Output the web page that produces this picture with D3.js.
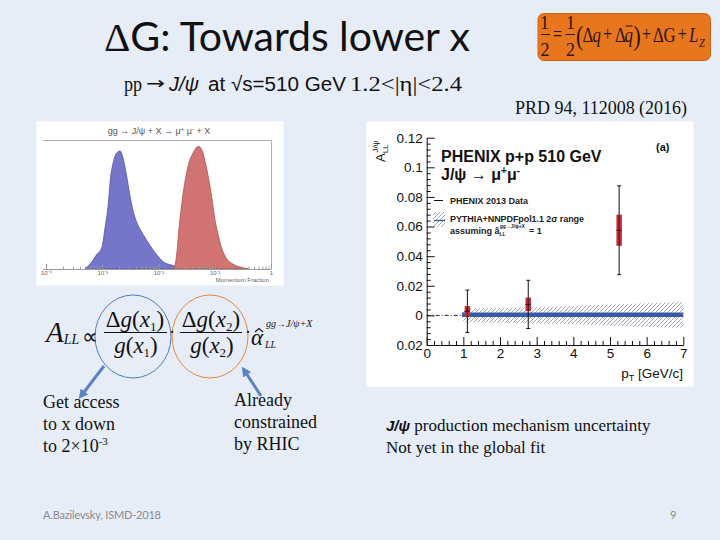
<!DOCTYPE html>
<html><head><meta charset="utf-8">
<script src="https://cdn.jsdelivr.net/npm/d3@7"></script>
<style>body{margin:0;background:#e7edf7}svg{display:block}</style>
</head><body>
<script>
// ---------- data: left histogram (momentum fraction) ----------
const histTicks = [1e-4, 1e-3, 1e-2, 1e-1, 1];
const histTickLabels = ["10⁻⁴", "10⁻³", "10⁻²", "10⁻¹", "1"];
const blueX = [4.9e-4, 6.5e-4, 7.9e-4, 9.8e-4, 1.12e-3, 1.29e-3, 1.38e-3, 1.58e-3, 1.86e-3, 2.09e-3, 2.34e-3, 2.69e-3, 3.09e-3, 3.55e-3, 4.07e-3, 5.37e-3, 7.08e-3, 9.33e-3, 1.23e-2, 1.82e-2, 2.75e-2, 3.55e-2];
const blueH = [0, 0.06, 0.12, 0.18, 0.35, 0.57, 0.74, 0.91, 0.99, 1.0, 0.94, 0.80, 0.63, 0.49, 0.40, 0.29, 0.20, 0.12, 0.06, 0.03, 0.005, 0];
const redX = [1.89e-2, 2.1e-2, 2.31e-2, 2.57e-2, 2.95e-2, 3.39e-2, 4.17e-2, 5.13e-2, 5.89e-2, 6.76e-2, 7.76e-2, 8.91e-2, 0.1, 0.115, 0.132, 0.162, 0.214, 0.324, 0.398];
const redH = [0, 0.12, 0.34, 0.54, 0.74, 0.88, 0.99, 1.04, 1.01, 0.91, 0.77, 0.60, 0.43, 0.29, 0.18, 0.09, 0.04, 0.01, 0];

// ---------- data: right plot A_LL vs pT ----------
const ptValues = [1.11, 2.77, 5.25];
const allValues = [0.0028, 0.0074, 0.0575];
const statErr = [0.0143, 0.0163, 0.0300];
const systErr = [0.0035, 0.0046, 0.0105];
const theoryPt = [1, 2, 3, 4, 5, 6, 7];
const theoryCentral = [0.0005, 0.0005, 0.0005, 0.0005, 0.0005, 0.0005, 0.0005];
const theoryLow = [-0.0045, -0.005, -0.0055, -0.006, -0.007, -0.0077, -0.0083];
const theoryHigh = [0.0045, 0.005, 0.0057, 0.0063, 0.0072, 0.0082, 0.009];
const yTicks = [-0.02, 0, 0.02, 0.04, 0.06, 0.08, 0.1, 0.12];
const yTickLabels = ["0.02", "0", "0.02", "0.04", "0.06", "0.08", "0.1", "0.12"];
const xTicks = [0, 1, 2, 3, 4, 5, 6, 7];
const xTickLabels = ["0", "1", "2", "3", "4", "5", "6", "7"];

const SERIF = "'Liberation Serif','Times New Roman',serif";
const SANS = "'Liberation Sans',Arial,sans-serif";
const TITLE = "Lato,'Open Sans',sans-serif";

const svg = d3.select("body").append("svg").attr("width", 720).attr("height", 540);
svg.append("rect").attr("width", 720).attr("height", 540).attr("fill", "#e7edf7");

const defs = svg.append("defs");
const pat = defs.append("pattern").attr("id", "hatch").attr("patternUnits", "userSpaceOnUse")
  .attr("width", 4).attr("height", 4);
pat.append("path").attr("d", "M-1,1 l2,-2 M0,4 l4,-4 M3,5 l2,-2")
  .attr("stroke", "#8c8fa0").attr("stroke-width", 0.8);
const mk = defs.append("marker").attr("id", "arr").attr("viewBox", "0 0 10 10")
  .attr("refX", 6).attr("refY", 5).attr("markerWidth", 3.2).attr("markerHeight", 3.2)
  .attr("orient", "auto");
mk.append("path").attr("d", "M0,0 L10,5 L0,10 z").attr("fill", "#5b83c2");

// text piece fitted between x0 and x1
function piece(parent, s, x0, x1, yb, size, opts = {}) {
  return parent.append("text").attr("x", x0).attr("y", yb).attr("font-size", size)
    .attr("font-family", opts.family || SERIF).attr("font-style", opts.italic ? "italic" : null)
    .attr("fill", opts.fill || "#111").attr("textLength", x1 - x0).attr("lengthAdjust", "spacingAndGlyphs").text(s);
}

// ---------- title ----------
const t = svg.append("text").attr("x", 104).attr("y", 51).attr("font-size", 41)
  .attr("font-family", TITLE).attr("fill", "#111").attr("textLength", 366);
t.append("tspan").attr("font-family", SERIF).text("Δ");
t.append("tspan").text("G: Towards lower x");

const st = svg.append("g");
piece(st, "pp", 124, 142, 90.5, 21);
piece(st, "→", 146, 165, 89, 17, { family: "'DejaVu Sans',sans-serif" });
piece(st, "J/ψ", 169, 199, 90.5, 20, { family: SANS, italic: true });
piece(st, "at √s=510 GeV", 208, 346, 90.5, 20, { family: SANS });
piece(st, "1.2<|η|<2.4", 350, 462, 90.5, 20);

// ---------- orange box ----------
svg.append("rect").attr("x", 538).attr("y", 13.5).attr("width", 172.5).attr("height", 47).attr("rx", 6)
  .attr("fill", "#e8761f").attr("stroke", "#c8641a").attr("stroke-width", 1);
const fg = svg.append("g");
const FCOL = "#2a1405";
fg.append("text").attr("x", 544.5).attr("y", 29).attr("text-anchor", "middle").attr("font-family", SERIF).attr("font-size", 18).attr("fill", FCOL).text("1");
fg.append("text").attr("x", 545).attr("y", 56).attr("text-anchor", "middle").attr("font-family", SERIF).attr("font-size", 18).attr("fill", FCOL).text("2");
fg.append("line").attr("x1", 541).attr("x2", 550).attr("y1", 34.5).attr("y2", 34.5).attr("stroke", FCOL).attr("stroke-width", 1);
fg.append("text").attr("x", 570.5).attr("y", 29).attr("text-anchor", "middle").attr("font-family", SERIF).attr("font-size", 18).attr("fill", FCOL).text("1");
fg.append("text").attr("x", 570.5).attr("y", 56).attr("text-anchor", "middle").attr("font-family", SERIF).attr("font-size", 18).attr("fill", FCOL).text("2");
fg.append("line").attr("x1", 565.7).attr("x2", 575).attr("y1", 34.5).attr("y2", 34.5).attr("stroke", FCOL).attr("stroke-width", 1);
fg.append("line").attr("x1", 625.5).attr("x2", 632.5).attr("y1", 26).attr("y2", 26).attr("stroke", FCOL).attr("stroke-width", 1);
// main line as one condensed text
const SX = 0.8, OX = 553;
const fmain = fg.append("g").attr("transform", `translate(${OX},0) scale(${SX},1)`)
  .append("text").attr("font-family", SERIF).attr("font-size", 21).attr("fill", FCOL);
const parts = [
  ["=", 553, 41, 20, false], ["(", 576, 45, 27, false], ["Δ", 582.5, 42, 21, false], ["q", 592.5, 42, 21, true],
  ["+", 603, 41, 20, false], ["Δ", 615, 42, 21, false], ["q", 624.5, 42, 21, true], [")", 633.5, 45, 27, false],
  ["+", 642, 41, 20, false], ["Δ", 653, 42, 21, false], ["G", 663.5, 42, 21, false], ["+", 677.7, 41, 20, false],
  ["L", 689, 42, 21, true], ["Z", 699, 47, 13, true]
];
parts.forEach(p => fmain.append("tspan").attr("x", (p[1] - OX) / SX).attr("y", p[2]).attr("font-size", p[3])
  .attr("font-style", p[4] ? "italic" : null).text(p[0]));

svg.append("text").attr("x", 515).attr("y", 114).attr("font-family", SERIF).attr("font-size", 18)
  .attr("fill", "#111").attr("textLength", 172).text("PRD 94, 112008 (2016)");

// ---------- left histogram ----------
const hg = svg.append("g");
hg.append("rect").attr("x", 36.5).attr("y", 121.5).attr("width", 247).attr("height", 164).attr("fill", "#fff");
const hx = d3.scaleLog().domain([1e-4, 1]).range([46, 271]);
const hy = d3.scaleLinear().domain([0, 1]).range([269, 151]);
const harea = d3.area().x(d => hx(d[0])).y0(hy(0)).y1(d => hy(d[1])).curve(d3.curveMonotoneX);
hg.append("path").datum(blueX.map((x, i) => [x, blueH[i]])).attr("d", harea)
  .attr("fill", "#7575ca").attr("stroke", "#4a4aa0").attr("stroke-width", 0.7);
hg.append("path").datum(redX.map((x, i) => [x, redH[i]])).attr("d", harea)
  .attr("fill", "#d17373").attr("stroke", "#a84848").attr("stroke-width", 0.7);
hg.append("path").attr("d", "M43,140.5 H271.5 V269").attr("fill", "none").attr("stroke", "#9a9a9a").attr("stroke-width", 0.8);
const hAxis = d3.axisBottom(hx).tickValues(histTicks).tickSize(-5).tickSizeOuter(0).tickPadding(2)
  .tickFormat((d, i) => histTickLabels[i]);
const hag = hg.append("g").attr("transform", "translate(0,269)").call(hAxis);
hag.select(".domain").attr("stroke", "#9a9a9a").attr("d", "M43,0.5H271.5");
hag.selectAll(".tick line").attr("stroke", "#9a9a9a");
hag.selectAll("text").attr("font-size", 6).attr("fill", "#666").attr("font-family", SANS);
const minorH = [];
[1e-4, 1e-3, 1e-2, 1e-1].forEach(b => [2, 3, 4, 5, 6, 7, 8, 9].forEach(k => minorH.push(b * k)));
hg.append("g").attr("transform", "translate(0,269)")
  .call(d3.axisBottom(hx).tickValues(minorH).tickSize(-2.5).tickSizeOuter(0).tickFormat(""))
  .call(g => g.select(".domain").remove())
  .selectAll("line").attr("stroke", "#9a9a9a");
hg.append("text").attr("x", 269).attr("y", 282).attr("text-anchor", "end").attr("font-size", 6)
  .attr("font-family", SANS).attr("fill", "#666").text("Momentum Fraction");
const ht = hg.append("text").attr("x", 159).attr("y", 134).attr("text-anchor", "middle")
  .attr("font-size", 9).attr("font-family", SANS).attr("fill", "#555");
ht.append("tspan").text("gg → J/ψ + X → μ");
ht.append("tspan").attr("font-size", 6).attr("dy", -3).text("+");
ht.append("tspan").attr("dy", 3).text(" μ");
ht.append("tspan").attr("font-size", 6).attr("dy", -3).text("-");
ht.append("tspan").attr("dy", 3).text(" + X");

// ---------- formula ----------
const eq = svg.append("g").attr("font-family", SERIF).attr("fill", "#111");
eq.append("ellipse").attr("cx", 133).attr("cy", 336.5).attr("rx", 38).attr("ry", 41.5)
  .attr("fill", "none").attr("stroke", "#4f7db8").attr("stroke-width", 1);
eq.append("ellipse").attr("cx", 210).attr("cy", 336.5).attr("rx", 38).attr("ry", 41.5)
  .attr("fill", "none").attr("stroke", "#e8883a").attr("stroke-width", 1);
const a = eq.append("text").attr("x", 46).attr("y", 342);
a.append("tspan").attr("font-style", "italic").attr("font-size", 29).text("A");
a.append("tspan").attr("font-style", "italic").attr("font-size", 14).attr("dy", 2).text("LL");
eq.append("text").attr("x", 82).attr("y", 344).attr("font-size", 22).text("∝");
function frac(cx, x1, x2, sub) {
  const n = eq.append("text").attr("x", cx).attr("y", 327).attr("text-anchor", "middle").attr("font-size", 23);
  n.append("tspan").text("Δ");
  n.append("tspan").attr("font-style", "italic").text("g");
  n.append("tspan").text("(");
  n.append("tspan").attr("font-style", "italic").text("x");
  n.append("tspan").attr("font-size", 13).attr("dy", 4).text(sub);
  n.append("tspan").attr("dy", -4).text(")");
  eq.append("line").attr("x1", x1).attr("x2", x2).attr("y1", 332.5).attr("y2", 332.5).attr("stroke", "#111").attr("stroke-width", 1.2);
  const d = eq.append("text").attr("x", cx + 1).attr("y", 353).attr("text-anchor", "middle").attr("font-size", 23);
  d.append("tspan").attr("font-style", "italic").text("g");
  d.append("tspan").text("(");
  d.append("tspan").attr("font-style", "italic").text("x");
  d.append("tspan").attr("font-size", 13).attr("dy", 4).text(sub);
  d.append("tspan").attr("dy", -4).text(")");
}
frac(135, 104, 167, "1");
frac(211, 180, 242, "2");
eq.append("text").attr("x", 169).attr("y", 338).attr("font-size", 18).text("·");
eq.append("text").attr("x", 245).attr("y", 338).attr("font-size", 18).text("·");
eq.append("text").attr("x", 251).attr("y", 345).attr("font-size", 23).attr("font-style", "italic").text("α");
eq.append("path").attr("d", "M255,332 L259,328.5 L263,332").attr("fill", "none").attr("stroke", "#111").attr("stroke-width", 1.1);
eq.append("text").attr("x", 265).attr("y", 348).attr("font-size", 10).attr("font-style", "italic").text("LL");
eq.append("text").attr("x", 266).attr("y", 327).attr("font-size", 10).attr("font-style", "italic").text("gg→J/ψ+X");

// arrows
svg.append("line").attr("x1", 104).attr("y1", 366).attr("x2", 81).attr("y2", 396)
  .attr("stroke", "#5b83c2").attr("stroke-width", 3).attr("marker-end", "url(#arr)");
svg.append("line").attr("x1", 261).attr("y1", 396).attr("x2", 244).attr("y2", 370)
  .attr("stroke", "#5b83c2").attr("stroke-width", 3).attr("marker-end", "url(#arr)");

// ---------- lower texts ----------
function lines(x, y0, dy, arr, size) {
  const g = svg.append("g").attr("font-family", SERIF).attr("font-size", size).attr("fill", "#111");
  arr.forEach((s, i) => g.append("text").attr("x", x).attr("y", y0 + i * dy).text(s));
  return g;
}
lines(43, 408, 22, ["Get access", "to x down"], 18);
const l3 = svg.append("text").attr("x", 43).attr("y", 452).attr("font-family", SERIF).attr("font-size", 18).attr("fill", "#111");
l3.append("tspan").text("to 2×10");
l3.append("tspan").attr("font-size", 11).attr("dy", -7).text("-3");
lines(234, 406, 22, ["Already", "constrained", "by RHIC"], 18);
const r1 = svg.append("text").attr("x", 386).attr("y", 431).attr("font-family", SERIF).attr("font-size", 17).attr("fill", "#111");
r1.append("tspan").attr("font-family", SANS).attr("font-style", "italic").attr("font-weight", "bold").attr("font-size", 15).text("J/ψ");
r1.append("tspan").text(" production mechanism uncertainty");
lines(386, 453, 22, ["Not yet in the global fit"], 17);

svg.append("text").attr("x", 43).attr("y", 519).attr("font-family", TITLE).attr("font-size", 11)
  .attr("fill", "#8a8a8a").attr("textLength", 118).text("A.Bazilevsky, ISMD-2018");
svg.append("text").attr("x", 670).attr("y", 519).attr("font-family", TITLE).attr("font-size", 11)
  .attr("fill", "#8a8a8a").text("9");

// ---------- right plot ----------
const rg = svg.append("g");
rg.append("rect").attr("x", 366.5).attr("y", 121.5).attr("width", 327).attr("height", 265).attr("fill", "#fff");
const x = d3.scaleLinear().domain([0, 7]).range([426.7, 683.3]);
const y = d3.scaleLinear().domain([-0.02, 0.12]).range([345, 137.7]);

// theory band
const band = d3.area().x((d, i) => x(theoryPt[i])).y0((d, i) => y(theoryLow[i])).y1((d, i) => y(theoryHigh[i]));
rg.append("path").datum(theoryPt).attr("d", band).attr("fill", "url(#hatch)");
rg.append("line").attr("x1", x(0)).attr("x2", x(1)).attr("y1", y(0)).attr("y2", y(0))
  .attr("stroke", "#111").attr("stroke-width", 0.9).attr("stroke-dasharray", "4,2,1,2");
const tl = d3.line().x((d, i) => x(theoryPt[i] === 1 ? 0.96 : theoryPt[i])).y((d, i) => y(theoryCentral[i]));
rg.append("path").datum(theoryPt).attr("d", tl).attr("fill", "none").attr("stroke", "#3a5ca8").attr("stroke-width", 4.5);

// data points
ptValues.forEach((p, i) => {
  const cx = x(p);
  rg.append("line").attr("x1", cx).attr("x2", cx).attr("y1", y(allValues[i] - statErr[i])).attr("y2", y(allValues[i] + statErr[i]))
    .attr("stroke", "#111").attr("stroke-width", 1);
  [allValues[i] - statErr[i], allValues[i] + statErr[i]].forEach(v =>
    rg.append("line").attr("x1", cx - 2).attr("x2", cx + 2).attr("y1", y(v)).attr("y2", y(v)).attr("stroke", "#111").attr("stroke-width", 1));
  rg.append("rect").attr("x", x(p - 0.075)).attr("width", x(p + 0.075) - x(p - 0.075))
    .attr("y", y(allValues[i] + systErr[i])).attr("height", y(allValues[i] - systErr[i]) - y(allValues[i] + systErr[i]))
    .attr("fill", "#c42f3d");
  rg.append("line").attr("x1", cx).attr("x2", cx).attr("y1", y(allValues[i] + systErr[i])).attr("y2", y(allValues[i] - systErr[i]))
    .attr("stroke", "#111").attr("stroke-width", 0.8);
  rg.append("line").attr("x1", x(p - 0.075)).attr("x2", x(p + 0.075)).attr("y1", y(allValues[i])).attr("y2", y(allValues[i]))
    .attr("stroke", "#111").attr("stroke-width", 0.8);
});

// axes
function styleAxis(g) {
  g.selectAll("line").attr("stroke", "#111");
  g.select(".domain").attr("stroke", "#111").attr("stroke-width", 1);
  g.selectAll("text").attr("font-family", SANS).attr("font-size", 13.5).attr("fill", "#111");
}
const yMinor = d3.range(-0.02, 0.1201, 0.004).filter(v => Math.abs(Math.round(v / 0.02) * 0.02 - v) > 1e-6);
rg.append("g").attr("transform", `translate(${x(0)},0)`)
  .call(d3.axisLeft(y).tickValues(yMinor).tickSize(-4).tickSizeOuter(0).tickFormat(""))
  .call(g => g.select(".domain").remove()).selectAll("line").attr("stroke", "#111");
rg.append("g").attr("transform", `translate(${x(0)},0)`)
  .call(d3.axisLeft(y).tickValues(yTicks).tickSize(-8).tickSizeOuter(0).tickPadding(4).tickFormat((d, i) => yTickLabels[i]))
  .call(styleAxis);
const xMinor = d3.range(0, 7.001, 0.2).filter(v => Math.abs(Math.round(v) - v) > 1e-6);
rg.append("g").attr("transform", `translate(0,${y(-0.02)})`)
  .call(d3.axisBottom(x).tickValues(xMinor).tickSize(-4).tickSizeOuter(0).tickFormat(""))
  .call(g => g.select(".domain").remove()).selectAll("line").attr("stroke", "#111");
rg.append("g").attr("transform", `translate(0,${y(-0.02)})`)
  .call(d3.axisBottom(x).tickValues(xTicks).tickSize(-8).tickSizeOuter(0).tickPadding(3).tickFormat((d, i) => xTickLabels[i]))
  .call(styleAxis);

// axis titles
const xt = rg.append("text").attr("x", 683).attr("y", 378).attr("text-anchor", "end")
  .attr("font-family", SANS).attr("font-size", 13.5).attr("fill", "#111");
xt.append("tspan").text("p");
xt.append("tspan").attr("font-size", 9).attr("dy", 3).text("T");
xt.append("tspan").attr("dy", -3).text(" [GeV/c]");
const yt = rg.append("text").attr("transform", "translate(385,162) rotate(-90)")
  .attr("font-family", SANS).attr("font-size", 13).attr("fill", "#111");
yt.append("tspan").text("A");
yt.append("tspan").attr("font-size", 8).attr("dy", 3).text("LL");
yt.append("tspan").attr("font-size", 8).attr("dx", -8).attr("dy", -10).text("J/ψ");

// labels and legend
rg.append("text").attr("x", 656).attr("y", 151).attr("font-family", SANS).attr("font-weight", "bold")
  .attr("font-size", 11).attr("fill", "#111").text("(a)");
rg.append("text").attr("x", 441).attr("y", 162).attr("font-family", SANS).attr("font-weight", "bold")
  .attr("font-size", 16).attr("fill", "#111").text("PHENIX p+p 510 GeV");
const jp = rg.append("text").attr("x", 441).attr("y", 180).attr("font-family", SANS).attr("font-weight", "bold")
  .attr("font-size", 16).attr("fill", "#111");
jp.append("tspan").text("J/ψ  →  μ");
jp.append("tspan").attr("font-size", 10).attr("dy", -6).text("+");
jp.append("tspan").attr("font-size", 16).attr("dy", 6).text("μ");
jp.append("tspan").attr("font-size", 10).attr("dy", -6).text("-");

rg.append("line").attr("x1", 434).attr("x2", 443).attr("y1", 200.5).attr("y2", 200.5).attr("stroke", "#111").attr("stroke-width", 1);
rg.append("text").attr("x", 450).attr("y", 204).attr("font-family", SANS).attr("font-weight", "bold")
  .attr("font-size", 9).attr("fill", "#222").attr("textLength", 78).text("PHENIX 2013 Data");
rg.append("rect").attr("x", 433).attr("y", 212).attr("width", 12).attr("height", 15).attr("fill", "url(#hatch)");
rg.append("line").attr("x1", 434).attr("x2", 445).attr("y1", 220.5).attr("y2", 220.5).attr("stroke", "#3a5ca8").attr("stroke-width", 1.3);
rg.append("text").attr("x", 450).attr("y", 222).attr("font-family", SANS).attr("font-weight", "bold")
  .attr("font-size", 9).attr("fill", "#222").attr("textLength", 134).text("PYTHIA+NNPDFpol1.1 2σ range");
const as = rg.append("text").attr("x", 450).attr("y", 234).attr("font-family", SANS).attr("font-weight", "bold")
  .attr("font-size", 9).attr("fill", "#222");
as.append("tspan").text("assuming â");
as.append("tspan").attr("font-size", 5).attr("dy", 2).text("LL");
as.append("tspan").attr("font-size", 5).attr("dx", -6).attr("dy", -8).text("gg→J/ψ+X");
as.append("tspan").attr("dx", 4).attr("dy", 6).text("= 1");
</script>
</body></html>
